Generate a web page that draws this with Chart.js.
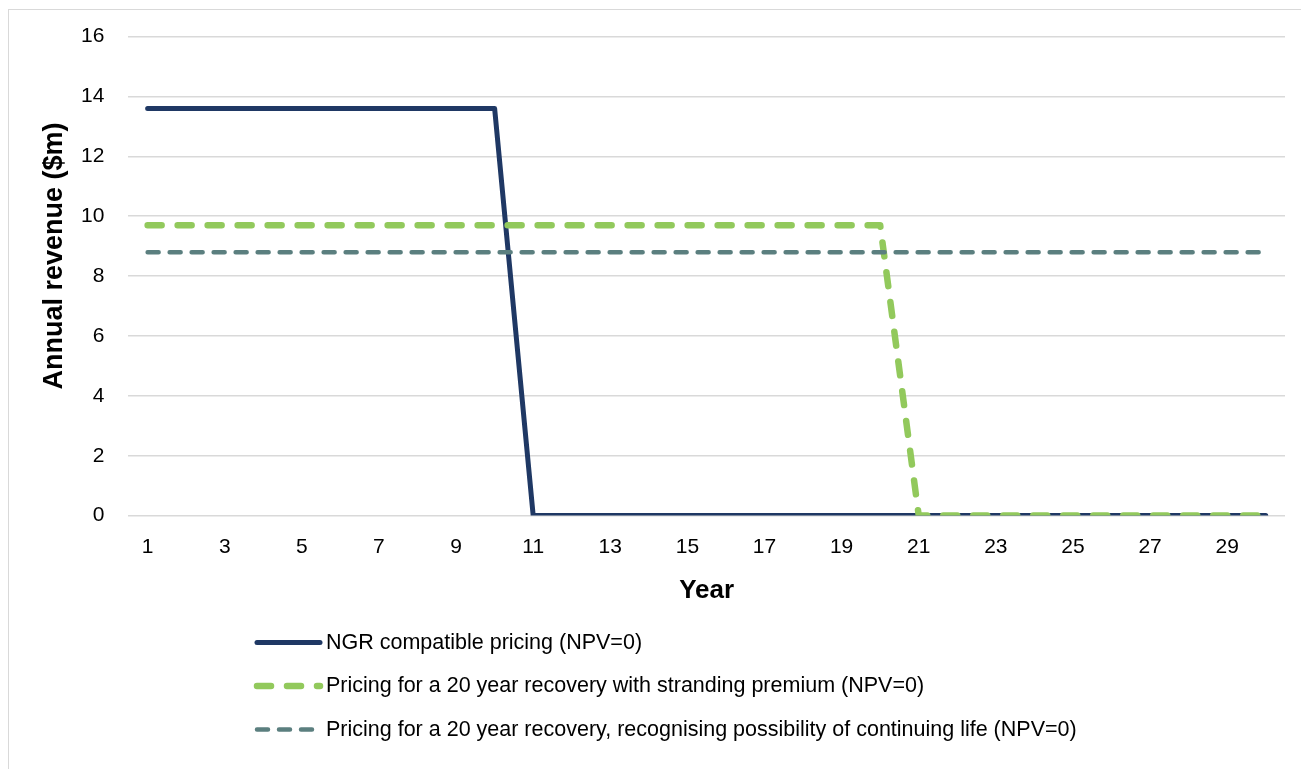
<!DOCTYPE html>
<html>
<head>
<meta charset="utf-8">
<script src="https://cdn.jsdelivr.net/npm/chart.js@4.4.1/dist/chart.umd.min.js"></script>
<style>
  html, body { margin: 0; padding: 0; background: #fff; }
  #wrap { position: relative; width: 1301px; height: 769px; overflow: hidden; }
  #frame { position: absolute; left: 8px; top: 9px; width: 1400px; height: 900px; border: 1px solid #d9d9d9; box-sizing: border-box; }
  canvas { position: absolute; left: 0; top: 0; }
</style>
</head>
<body>
<div id="wrap">
  <div id="frame"></div>
  <canvas id="revenueChart" width="1301" height="769"></canvas>
</div>
<script>
const years = ['1','2','3','4','5','6','7','8','9','10','11','12','13','14','15','16','17','18','19','20','21','22','23','24','25','26','27','28','29','30'];
const ngrPricing = [13.6,13.6,13.6,13.6,13.6,13.6,13.6,13.6,13.6,13.6,0,0,0,0,0,0,0,0,0,0,0,0,0,0,0,0,0,0,0,0];
const strandingPremium = [9.7,9.7,9.7,9.7,9.7,9.7,9.7,9.7,9.7,9.7,9.7,9.7,9.7,9.7,9.7,9.7,9.7,9.7,9.7,9.7,0,0,0,0,0,0,0,0,0,0];
const continuingLife = [8.8,8.8,8.8,8.8,8.8,8.8,8.8,8.8,8.8,8.8,8.8,8.8,8.8,8.8,8.8,8.8,8.8,8.8,8.8,8.8,8.8,8.8,8.8,8.8,8.8,8.8,8.8,8.8,8.8,8.8];
const seriesNames = [
    'NGR compatible pricing (NPV=0)',
    'Pricing for a 20 year recovery with stranding premium (NPV=0)',
    'Pricing for a 20 year recovery, recognising possibility of continuing life (NPV=0)'
];
const yAxisTitle = 'Annual revenue ($m)';

const fontFamily = "'Liberation Sans', Arial, sans-serif";

// y title sits a little above the plot centre in the original, so draw it here
const yTitle = {
    id: 'yTitle',
    afterDraw(chart) {
        const ctx = chart.ctx;
        ctx.save();
        ctx.translate(55, 256);
        ctx.rotate(-Math.PI / 2);
        ctx.font = 'bold 27px ' + fontFamily;
        ctx.fillStyle = '#000';
        ctx.textAlign = 'center';
        ctx.textBaseline = 'middle';
        ctx.fillText(yAxisTitle, 0, 0);
        ctx.restore();
    }
};

// legend drawn by hand: one row per series under the x axis title
const stackedLegend = {
    id: 'stackedLegend',
    afterDraw(chart) {
        const ctx = chart.ctx;
        const base = chart.chartArea.bottom + 127;
        ctx.save();
        chart.data.datasets.forEach((ds, i) => {
            const y = base + i * 43.5;
            ctx.beginPath();
            ctx.strokeStyle = ds.borderColor;
            ctx.lineWidth = ds.borderWidth;
            ctx.lineCap = 'round';
            ctx.setLineDash(ds.borderDash || []);
            ctx.moveTo(257, y);
            ctx.lineTo(i === 2 ? 314 : 320, y);
            ctx.stroke();
            ctx.setLineDash([]);
            ctx.fillStyle = '#000';
            ctx.font = '21.5px ' + fontFamily;
            ctx.textBaseline = 'middle';
            ctx.fillText(ds.label, 326, y);
        });
        ctx.restore();
    }
};

const ctx = document.getElementById('revenueChart').getContext('2d');
new Chart(ctx, {
    type: 'line',
    data: {
        labels: years,
        datasets: [
            { label: seriesNames[0], data: ngrPricing, borderColor: '#1f3864', borderWidth: 5, order: 3 },
            { label: seriesNames[1], data: strandingPremium, borderColor: '#92c95c', borderWidth: 6.5, borderDash: [14, 16], order: 2 },
            { label: seriesNames[2], data: continuingLife, borderColor: '#5b7f7f', borderWidth: 4.5, borderDash: [11, 11], order: 1 }
        ]
    },
    options: {
        responsive: false,
        animation: false,
        layout: { padding: { left: 57, right: 16, top: 26, bottom: 159 } },
        elements: {
            point: { radius: 0 },
            line: { tension: 0, borderCapStyle: 'round', borderJoinStyle: 'round', fill: false }
        },
        plugins: { legend: { display: false }, tooltip: { enabled: false } },
        scales: {
            x: {
                offset: true,
                grid: { display: false },
                border: { display: false },
                ticks: {
                    color: '#000',
                    font: { family: fontFamily, size: 21 },
                    maxRotation: 0,
                    autoSkip: false,
                    padding: 11,
                    callback: function (v, i) { return i % 2 === 0 ? years[i] : ''; }
                },
                title: { display: true, text: 'Year', color: '#000', font: { family: fontFamily, size: 26, weight: 'bold' }, padding: { top: 4 } }
            },
            y: {
                min: 0,
                max: 16,
                grid: { color: '#d9d9d9', lineWidth: 1.5, drawTicks: false },
                border: { display: false },
                ticks: { stepSize: 2, color: '#000', font: { family: fontFamily, size: 21 }, padding: 24 }
            }
        }
    },
    plugins: [yTitle, stackedLegend]
});
</script>
</body>
</html>
